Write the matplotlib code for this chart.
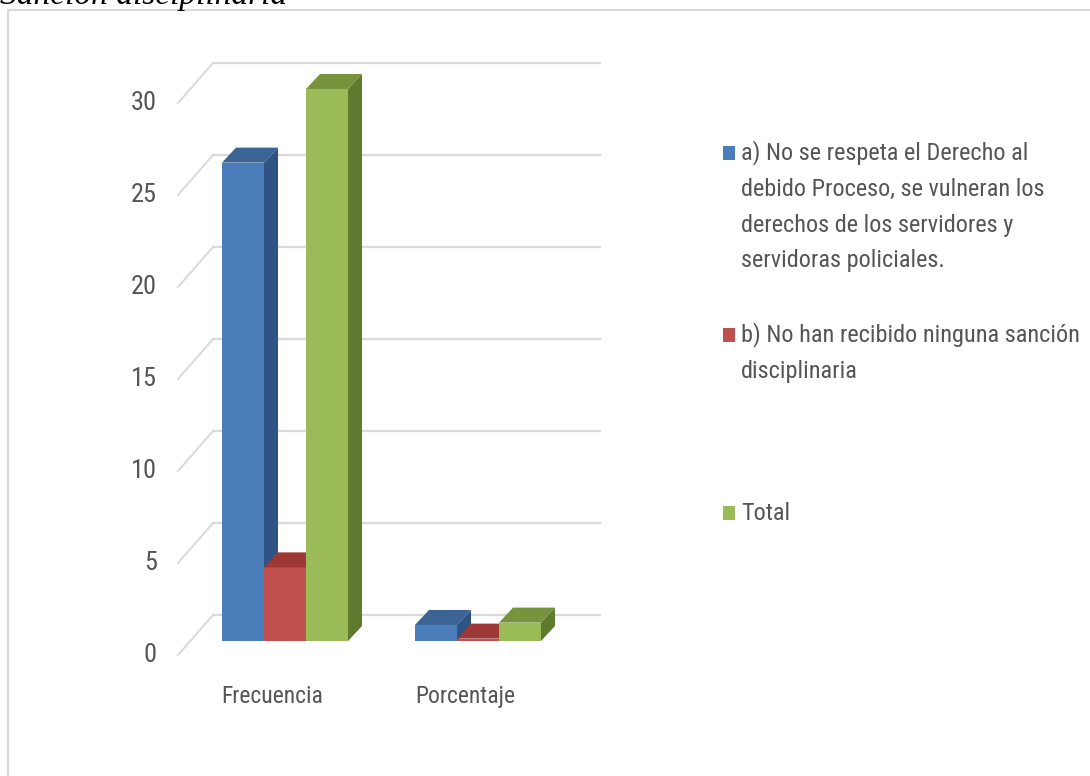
import numpy as np
import matplotlib
matplotlib.use("Agg")
import matplotlib.pyplot as plt
from matplotlib.patches import Polygon, Rectangle

# ---- data ----------------------------------------------------------------
categories = ["Frecuencia", "Porcentaje"]
series_labels = ["a) No se respeta el Derecho al\ndebido Proceso, se vulneran los\n"
                 "derechos de los servidores y\nservidoras policiales.",
                 "b) No han recibido ninguna sanción\ndisciplinaria",
                 "Total"]
serie_a = [26, 0.87]
serie_b = [4, 0.13]
total = [30, 1.0]
values = [serie_a, serie_b, total]
y_ticks = [0, 5, 10, 15, 20, 25, 30]
title = "Sanción disciplinaria"

# ---- style ---------------------------------------------------------------
front_cols = ["#4a7ebb", "#c0504d", "#9bbb59"]
top_cols = ["#3b6494", "#9c3835", "#77933c"]
side_cols = ["#2f5382", "#86302d", "#5f7a2e"]
font = ["Roboto Condensed", "Liberation Sans Narrow", "Lato", "DejaVu Sans"]
txt_col = "#555555"

W, H = 1090, 776
fig = plt.figure(figsize=(W / 100, H / 100), dpi=100)

# outer chart frame + clipped title
fig.patches.append(Rectangle((8 / W, -0.01), 1.0, 1 - 10 / H + 0.01, transform=fig.transFigure,
                             facecolor="white", edgecolor="#d9d9d9", lw=1.5, zorder=-5))
fig.text(0.0, 1 - 4 / H, title, family="Liberation Serif", style="italic",
         fontsize=24, color="black", va="baseline", ha="left")

# axes in data units: x = category position, y = value
ax = fig.add_axes([100 / W, 1 - 720 / H, 540 / W, 690 / H])
ax.set_xlim(-0.9585, 1.8394)
ax.set_ylim(-4.293, 33.207)
ax.axis("off")
ax.set_zorder(2)

py = 18.4          # pixels per unit (y)
px = 193.0         # pixels per category (x)
w = 42 / px        # bar width
ddx, ddy = 14 / px, 15 / py   # depth offset of the 3D bars
back_dx, back_dy = -72 / px, 26 / py   # back wall origin relative to bars
front_dx, front_dy = -107 / px, -14 / py

# walls / gridlines
for t in y_ticks:
    ax.plot([back_dx, 315 / px], [t + back_dy] * 2, color="#d9d9d9", lw=1.6, zorder=1)
    ax.plot([front_dx, back_dx], [t + front_dy, t + back_dy], color="#d9d9d9", lw=1.4, zorder=1)
    ax.text(front_dx - 21 / px, t + front_dy, str(t), ha="right", va="center",
            family=font, fontsize=19, color=txt_col)

# 3D bars
cat_pos = np.arange(len(categories))
for j, c in enumerate(cat_pos):
    for i, vals in enumerate(values):
        v = vals[j]
        x0 = c + (i - 1.5) * w
        ax.bar(x0, v, width=w, align="edge", color=front_cols[i], lw=0, zorder=2 + i)
        ax.add_patch(Polygon([(x0 + w, 0), (x0 + w + ddx, ddy), (x0 + w + ddx, v + ddy), (x0 + w, v)],
                             closed=True, facecolor=side_cols[i], lw=0, zorder=2 + i))
        ax.add_patch(Polygon([(x0, v), (x0 + w, v), (x0 + w + ddx, v + ddy), (x0 + ddx, v + ddy)],
                             closed=True, facecolor=top_cols[i], lw=0, zorder=2 + i))
    ax.text(c - 0.065, -55 / py, categories[j], ha="center", va="center",
            family=font, fontsize=17, color=txt_col)

# legend
entry_y = [153, 335, 513]
line_gap = 36
for i, lab in enumerate(series_labels):
    y0 = entry_y[i]
    fig.patches.append(Rectangle((723 / W, 1 - (y0 + 7) / H), 12 / W, 14 / H,
                                 transform=fig.transFigure, facecolor=front_cols[i], lw=0))
    for k, line in enumerate(lab.split("\n")):
        fig.text(741 / W, 1 - (y0 + k * line_gap) / H, line, ha="left", va="center",
                 family=font, fontsize=17.5, color=txt_col)

fig.savefig("out.png", dpi=100)
